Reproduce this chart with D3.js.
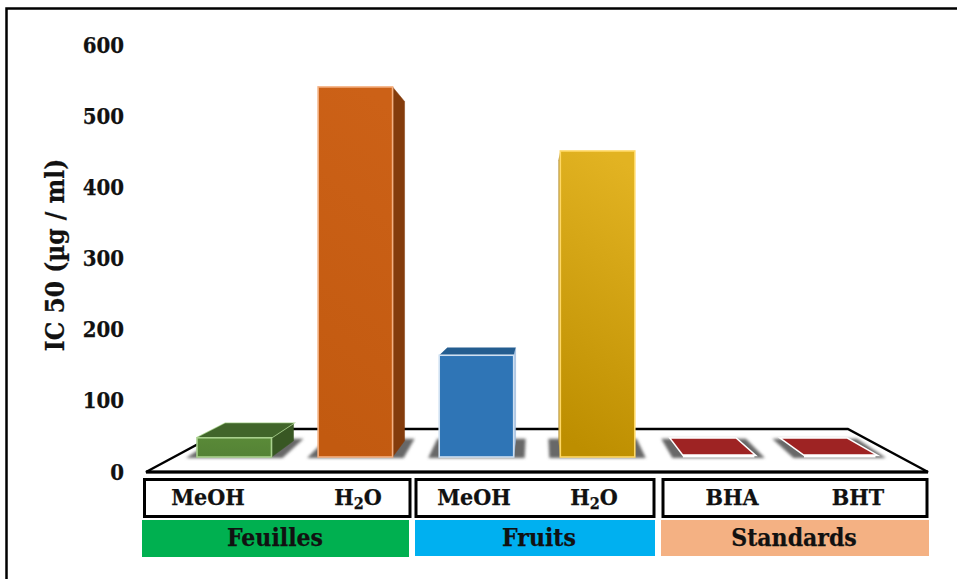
<!DOCTYPE html>
<html>
<head>
<meta charset="utf-8">
<script src="https://cdn.jsdelivr.net/npm/d3@7"></script>
<style>
  html, body { margin: 0; padding: 0; background: #fff; }
  svg { display: block; }
  text { font-family: "DejaVu Serif Condensed", "DejaVu Serif", serif; font-weight: 700; font-stretch: condensed; fill: #111; stroke: #111; stroke-width: 0.25; }
</style>
</head>
<body>
<svg id="chart" width="957" height="579"></svg>
<script>
// Extracts and their IC50 values
const extracts = ["Feuilles MeOH", "Feuilles H2O", "Fruits MeOH", "Fruits H2O", "BHA", "BHT"];
const ic50 = [27, 520, 143, 430, 3, 3];
const yTicks = [0, 100, 200, 300, 400, 500, 600];
const groupNames = ["Feuilles", "Fruits", "Standards"];
const boxLabels = [["MeOH", "H2O"], ["MeOH", "H2O"], ["BHA", "BHT"]];
const faceTop = ["#5a8a38", "#cc6117", "#2f75b6", "#e2b322", "#9e2323", "#9e2323"];
const faceBottom = ["#548235", "#c25a10", "#2f75b6", "#bd8e00", "#9e2323", "#9e2323"];
const capColors = ["#41652a", "#41652a", "#245d90", "#a88a20", "#9e2323", "#9e2323"];
const sideColors = ["#385723", "#843c0c", "#9dbbdc", "#b8963a", "#9e2323", "#9e2323"];
const edgeColors = ["#a9d18e", "#f4b183", "#cfe0f2", "#ffd966", "#ffffff", "#ffffff"];
const groupColors = ["#00b050", "#00b0f0", "#f4b183"];

const svg = d3.select("#chart");
const y = d3.scaleLinear().domain([0, 600]).range([472, 45]);
const x = d3.scaleBand().domain(extracts).range([174, 900]).paddingInner(0.385).paddingOuter(0.19);
const floorInset = 15;           // bars stand this far behind the front edge of the floor
const vanish = [537, 262];       // perspective point of the floor and bar depth
const barDepth = 0.083;

// Move a point towards the vanishing point by fraction k
const recede = ([px, py], k) => [px + (vanish[0] - px) * k, py + (vanish[1] - py) * k];
const path = pts => "M" + pts.map(p => p.join(",")).join("L") + "Z";

const defs = svg.append("defs");
defs.append("filter").attr("id", "soft").attr("x", "-30%").attr("y", "-30%").attr("width", "160%").attr("height", "160%")
  .append("feGaussianBlur").attr("stdDeviation", 1.8);
extracts.forEach((e, i) => {
  const g = defs.append("linearGradient").attr("id", "face" + i)
    .attr("x1", 0.6).attr("y1", 0).attr("x2", 0.45).attr("y2", 1);
  g.append("stop").attr("offset", 0).attr("stop-color", faceTop[i]);
  g.append("stop").attr("offset", 1).attr("stop-color", faceBottom[i]);
});

// Frame along the top and left of the figure
svg.append("path").attr("d", "M6.5,579V8.5H957").attr("fill", "none").attr("stroke", "#000").attr("stroke-width", 2.5);

// Perspective floor
const floorFront = [[146, y(0)], [928, y(0)]];
const floorBack = floorFront.map(p => recede(p, 0.205));
svg.append("path")
  .attr("d", path([floorFront[0], floorFront[1], floorBack[1], floorBack[0]]))
  .attr("fill", "#fff").attr("stroke", "#000").attr("stroke-width", 2.4).attr("stroke-linejoin", "miter");
svg.append("line").attr("x1", 146).attr("x2", 928).attr("y1", y(0)).attr("y2", y(0)).attr("stroke", "#000").attr("stroke-width", 3);

// Bars drawn as three visible faces over a blurred floor shadow
const bars = svg.append("g").selectAll("g").data(extracts).join("g");
const base = y(0) - floorInset;
bars.each(function (name, i) {
  const g = d3.select(this);
  const flat = ic50[i] < 10;
  const inset = flat ? 2 : 0;     // the near-zero standards read slightly narrower on the floor
  const l = x(name) + inset, r = x(name) + x.bandwidth() - inset;
  const top = y(ic50[i]) - floorInset;
  const fl = [l, base], fr = [r, base], tl = [l, top], tr = [r, top];
  const bl = recede(fl, barDepth), br = recede(fr, barDepth);
  const ul = recede(tl, barDepth), ur = recede(tr, barDepth);

  g.append("path")
    .attr("d", path([[l - 11, base + 1], [r + 11, base + 1], [br[0] + 10, br[1] - 2], [bl[0] - 10, bl[1] - 2]]))
    .attr("fill", "#686868").attr("filter", "url(#soft)");

  // Side wall on whichever flank faces the viewer
  if (r < vanish[0]) {
    g.append("path").attr("d", path([fr, br, ur, tr])).attr("fill", sideColors[i]).attr("stroke", sideColors[i]).attr("stroke-width", 0.5);
  } else if (l > vanish[0] && !flat) {
    g.append("path").attr("d", path([fl, bl, ul, tl])).attr("fill", sideColors[i]);
  }
  // Top face, visible only when the bar ends below eye level
  if (top > vanish[1]) {
    g.append("path").attr("d", path([tl, tr, ur, ul]))
      .attr("fill", capColors[i])
      .attr("stroke", flat ? "#fff" : (i === 0 ? edgeColors[i] : "none"))
      .attr("stroke-width", flat ? 3 : 1.5)
      .attr("paint-order", "stroke");
  }
  g.append("rect").attr("x", l).attr("y", top).attr("width", r - l).attr("height", base - top)
    .attr("fill", flat ? "#fff" : `url(#face${i})`)
    .attr("stroke", edgeColors[i]).attr("stroke-width", flat ? 1 : 1.6);
});

// Value axis
const axis = svg.append("g").attr("transform", "translate(124,0)")
  .call(d3.axisLeft(y).tickValues(yTicks).tickSize(0).tickPadding(0));
axis.select(".domain").remove();
axis.selectAll("text").attr("font-size", 22).style("font-family", null).attr("font-family", null);

svg.append("text").attr("transform", "translate(64,255) rotate(-90)")
  .attr("text-anchor", "middle").attr("font-size", 26).text("IC 50 (µg / ml)");

// Category boxes under the floor
const boxes = [[144.5, 410], [416, 654], [663, 927]];
const groupBands = [[142, 409], [415, 655], [661, 929]];
const groupLabelX = [275, 539, 794];
const boxLabelX = [[208, 358], [474, 594], [732, 858]];
const rows = svg.append("g").selectAll("g").data(groupNames).join("g");
rows.each(function (name, i) {
  const g = d3.select(this);
  const [bx0, bx1] = boxes[i];
  g.append("rect").attr("x", bx0).attr("y", 479.5).attr("width", bx1 - bx0).attr("height", 37)
    .attr("fill", "#fff").attr("stroke", "#000").attr("stroke-width", 3);
  const [gx0, gx1] = groupBands[i];
  g.append("rect").attr("x", gx0).attr("y", 520).attr("width", gx1 - gx0).attr("height", i === 0 ? 37 : 36)
    .attr("fill", groupColors[i]);
  g.append("text").attr("x", groupLabelX[i]).attr("y", 546).attr("text-anchor", "middle")
    .attr("font-size", 24.5).text(name);
  boxLabels[i].forEach((label, j) => {
    const t = g.append("text").attr("y", 505).attr("text-anchor", "middle").attr("font-size", 23)
      .attr("x", boxLabelX[i][j]);
    const m = label.match(/^(\D+)2(\D+)$/);
    if (m) {
      t.append("tspan").text(m[1]);
      t.append("tspan").attr("font-size", 16).attr("dy", 4).text("2");
      t.append("tspan").attr("dy", -4).text(m[2]);
    } else {
      t.text(label);
    }
  });
});
</script>
</body>
</html>
